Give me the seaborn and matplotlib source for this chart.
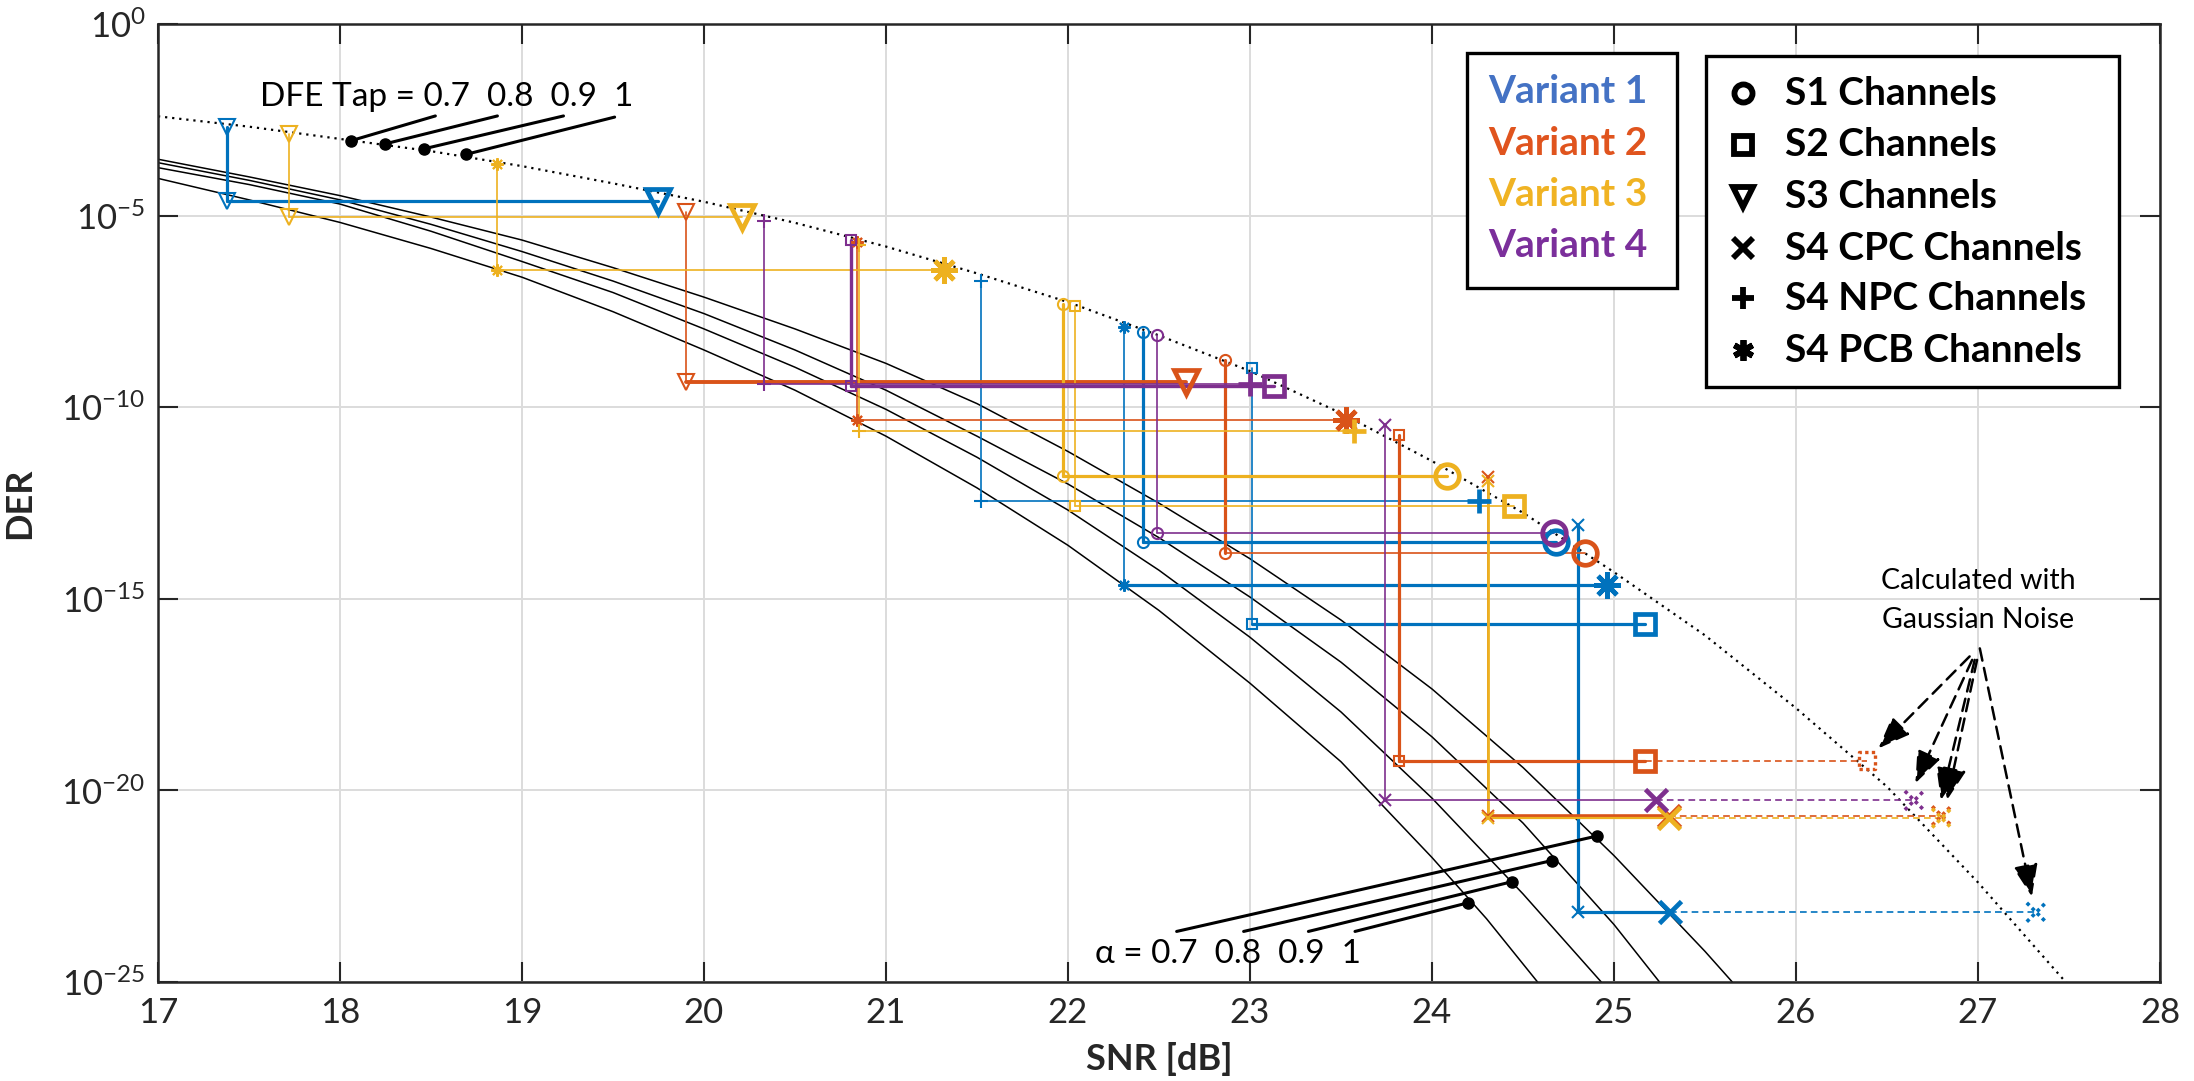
import numpy as np
import pandas as pd
import matplotlib
matplotlib.use("Agg")
import matplotlib.pyplot as plt
from matplotlib.lines import Line2D
from matplotlib.patches import Rectangle
from matplotlib.ticker import FixedLocator, NullLocator
import seaborn as sns

# ---------------------------------------------------------------- data
# Gaussian-noise DER reference (DFE tap sweep), log10(DER) against SNR [dB]
gauss_snr = [17.0, 17.5, 18.0, 18.5, 19.0, 19.5, 20.0, 20.5, 21.0, 21.5, 22.0,
             22.5, 23.0, 23.5, 24.0, 24.5, 25.0, 25.5, 26.0, 26.5, 27.0, 27.5]
gauss_log_der = [-2.40, -2.67, -2.99, -3.31, -3.70, -4.15, -4.63, -5.18, -5.80, -6.50, -7.25,
                 -8.12, -9.05, -10.15, -11.40, -12.75, -14.30, -15.95, -17.85, -19.90, -22.40, -25.10]

# DER curves for the alpha sweep
snr_a07 = [17.0, 17.5, 18.0, 18.5, 19.0, 19.5, 20.0, 20.5, 21.0, 21.5, 22.0, 22.5,
           23.0, 23.5, 24.0, 24.5, 25.0, 25.5, 25.65]
log_der_a07 = [-3.52, -3.98, -4.47, -5.03, -5.63, -6.35, -7.12, -7.95, -8.85, -9.90, -11.15, -12.50,
               -13.95, -15.55, -17.35, -19.40, -21.70, -24.20, -25.0]
snr_a08 = [17.0, 17.5, 18.0, 18.5, 19.0, 19.5, 20.0, 20.5, 21.0, 21.5, 22.0, 22.5,
           23.0, 23.5, 24.0, 24.5, 25.0, 25.25]
log_der_a08 = [-3.61, -4.07, -4.58, -5.22, -5.93, -6.70, -7.55, -8.50, -9.55, -10.75, -12.00, -13.40,
               -14.95, -16.65, -18.60, -20.85, -23.50, -25.0]
snr_a09 = [17.0, 17.5, 18.0, 18.5, 19.0, 19.5, 20.0, 20.5, 21.0, 21.5, 22.0, 22.5,
           23.0, 23.5, 24.0, 24.5, 24.93]
log_der_a09 = [-3.74, -4.18, -4.69, -5.40, -6.19, -7.00, -7.95, -8.95, -10.05, -11.30, -12.68, -14.25,
               -16.00, -17.95, -20.20, -22.70, -25.0]
snr_a10 = [17.0, 17.5, 18.0, 18.5, 19.0, 19.5, 20.0, 20.5, 21.0, 21.5, 22.0, 22.5,
           23.0, 23.5, 24.0, 24.3, 24.58]
log_der_a10 = [-4.02, -4.58, -5.17, -5.85, -6.60, -7.50, -8.50, -9.55, -10.75, -12.10, -13.60, -15.30,
               -17.20, -19.25, -21.75, -23.35, -25.0]

variants = ["Variant 1", "Variant 2", "Variant 3", "Variant 4"]
channels = ["S1 Channels", "S2 Channels", "S3 Channels",
            "S4 CPC Channels", "S4 NPC Channels", "S4 PCB Channels"]

# measured channel results: small markers at snr_min (top -> bottom DER),
# large marker at snr_max, optional Gaussian-noise result at snr_gaussian
meas_variant = [0, 0, 0, 0, 0, 0,
                1, 1, 1, 1, 1,
                2, 2, 2, 2, 2, 2,
                3, 3, 3, 3]
meas_channel = ["S3", "S4 NPC", "S4 PCB", "S1", "S2", "S4 CPC",
                "S3", "S4 PCB", "S1", "S2", "S4 CPC",
                "S3", "S4 PCB", "S4 NPC", "S1", "S2", "S4 CPC",
                "S4 NPC", "S2", "S1", "S4 CPC"]
snr_min = [17.38, 21.52, 22.31, 22.41, 23.01, 24.80,
           19.90, 20.84, 22.86, 23.82, 24.31,
           17.72, 18.86, 20.85, 21.97, 22.04, 24.31,
           20.33, 20.81, 22.49, 23.74]
log_der_top = [-2.68, -6.69, -7.90, -8.03, -8.98, -13.07,
               -4.91, -5.69, -8.77, -10.72, -11.82,
               -2.85, -3.65, -5.75, -7.29, -7.34, -11.92,
               -5.12, -5.63, -8.12, -10.46]
log_der_bottom = [-4.60, -12.43, -14.63, -13.50, -15.66, -23.18,
                  -9.33, -10.34, -13.79, -19.22, -20.66,
                  -5.02, -6.41, -10.62, -11.80, -12.58, -20.72,
                  -9.38, -9.45, -13.27, -20.26]
snr_max = [19.75, 24.26, 24.96, 24.68, 25.17, 25.31,
           22.65, 23.53, 24.84, 25.17, 25.30,
           20.21, 21.32, 23.57, 24.08, 24.45, 25.30,
           23.00, 23.13, 24.67, 25.23]
snr_gaussian = [np.nan, np.nan, np.nan, np.nan, np.nan, 27.32,
                np.nan, np.nan, np.nan, 26.39, 26.80,
                np.nan, np.nan, np.nan, np.nan, np.nan, 26.80,
                np.nan, np.nan, np.nan, 26.65]

# ---------------------------------------------------------------- styles
THIN, THICK = 1.2, 2.3
stem_widths = [(THICK, THICK), (THIN, THIN), (THIN, THICK), (THICK, THICK), (THIN, THICK), (THICK, THICK),
               (THIN, 2.8), (THIN, THIN), (THICK, THIN), (THICK, THICK), (THIN, 2.6),
               (THIN, THIN), (THIN, THIN), (THIN, THIN), (THICK, THICK), (THIN, THIN), (2.0, 1.6),
               (THIN, THIN), (2.4, 2.4), (THIN, THIN), (THIN, THIN)]

line_colors = ["#0072BD", "#D95319", "#EDB120", "#7E2F8E"]
label_colors = ["#4472C4", "#E0541E", "#F0B323", "#7B2F9B"]
ASTERISK = (8, 2, 0)
channel_marker = {"S1": "o", "S2": "s", "S3": "v", "S4 CPC": "x", "S4 NPC": "+", "S4 PCB": ASTERISK}
unfilled = {"S4 CPC", "S4 NPC", "S4 PCB"}
small_size = {"S1": 8, "S2": 7.5, "S3": 11, "S4 CPC": 8, "S4 NPC": 10, "S4 PCB": 9}
big_size = {"S1": 17, "S2": 14, "S3": 17, "S4 CPC": 16, "S4 NPC": 17, "S4 PCB": 19}

FONT = ["Lato", "DejaVu Sans"]
sns.set_theme(style="white")
plt.rcParams["font.family"] = FONT
plt.rcParams["mathtext.fontset"] = "custom"
plt.rcParams["mathtext.rm"] = "Lato"
plt.rcParams["mathtext.it"] = "Lato:italic"
plt.rcParams["mathtext.bf"] = "Lato:bold"

W, H = 2194, 1081
fig = plt.figure(figsize=(W / 100, H / 100), dpi=100)
fig.patch.set_facecolor("white")
ax = fig.add_axes([0.07201, 0.09158, 0.91249, 0.88585])
ax.set_yscale("log")
ax.set_xlim(17, 28)
ax.set_ylim(1e-25, 1)

# ---------------------------------------------------------------- curves
curves = pd.concat([
    pd.DataFrame({"snr": s, "der": np.power(10.0, d), "alpha": a})
    for s, d, a in [(snr_a07, log_der_a07, 0.7), (snr_a08, log_der_a08, 0.8),
                    (snr_a09, log_der_a09, 0.9), (snr_a10, log_der_a10, 1.0)]
])
sns.lineplot(data=curves, x="snr", y="der", units="alpha", estimator=None,
             color="black", lw=1.1, ax=ax, zorder=2)
gauss = pd.DataFrame({"snr": gauss_snr, "der": np.power(10.0, gauss_log_der)})
sns.lineplot(data=gauss, x="snr", y="der", color="black", lw=1.6,
             linestyle=(0, (1, 2.2)), ax=ax, zorder=2)

# ---------------------------------------------------------------- measurements
for i in range(len(snr_min)):
    c = line_colors[meas_variant[i]]
    ch = meas_channel[i]
    mk = channel_marker[ch]
    x0, x1 = snr_min[i], snr_max[i]
    y_top, y_bot = 10.0 ** log_der_top[i], 10.0 ** log_der_bottom[i]
    lw_v, lw_h = stem_widths[i]
    ax.plot([x0, x0], [y_top, y_bot], color=c, lw=lw_v, zorder=3)
    ax.plot([x0, x1], [y_bot, y_bot], color=c, lw=lw_h, zorder=3)
    ax.plot([x0, x0], [y_top, y_bot], ls="none", marker=mk, ms=small_size[ch], mew=1.5,
            mfc="none", mec=c, zorder=4)
    ax.plot([x1], [y_bot], ls="none", marker=mk, ms=big_size[ch], mew=3.4,
            mfc="none", mec=c, zorder=5)
    xg = snr_gaussian[i]
    if not np.isnan(xg):
        off = 0 if meas_variant[i] != 2 else 3
        ax.plot([x1, xg], [y_bot, y_bot], color=c, lw=1.2, ls=(off, (4, 2.5)), zorder=3)
        size = (big_size[ch] * 0.85) ** 2
        if ch in unfilled:
            ax.scatter([xg], [y_bot], marker=mk, s=size, c=[c], linewidths=2.6,
                       linestyles=(0, (1, 1)), zorder=5)
        else:
            ax.scatter([xg], [y_bot], marker=mk, s=size, facecolors="none", edgecolors=c,
                       linewidths=2.4, linestyles=(0, (1, 1)), zorder=5)

# ---------------------------------------------------------------- annotations
txt_kw = dict(color="black", fontsize=24, zorder=6)
ax.text(17.56, 10 ** -2.13, "DFE Tap = 0.7  0.8  0.9  1", ha="left", va="baseline", **txt_kw)
dfe_from = [(18.524, -2.39), (18.865, -2.39), (19.228, -2.39), (19.509, -2.42)]
dfe_to = [(18.058, -3.04), (18.247, -3.12), (18.460, -3.25), (18.695, -3.39)]
for (xa, ya), (xb, yb) in zip(dfe_from, dfe_to):
    ax.plot([xa, xb], [10 ** ya, 10 ** yb], color="black", lw=2.2, zorder=6)
    ax.plot([xb], [10 ** yb], "o", color="black", ms=8, zorder=6)

ax.text(22.15, 10 ** -24.50, "α = 0.7  0.8  0.9  1", ha="left", va="baseline", **txt_kw)
alpha_from = [(22.597, -23.68), (22.965, -23.68), (23.321, -23.68), (23.577, -23.68)]
alpha_to = [(24.905, -21.19), (24.658, -21.83), (24.441, -22.38), (24.200, -22.93)]
for (xa, ya), (xb, yb) in zip(alpha_from, alpha_to):
    ax.plot([xa, xb], [10 ** ya, 10 ** yb], color="black", lw=2.2, zorder=6)
    ax.plot([xb], [10 ** yb], "o", color="black", ms=8, zorder=6)

ax.text(27.0, 10 ** -14.75, "Calculated with", ha="center", va="baseline", color="black", fontsize=20.5, zorder=6)
ax.text(27.0, 10 ** -15.76, "Gaussian Noise", ha="center", va="baseline", color="black", fontsize=20.5, zorder=6)
arrow_from = [(26.954, -16.50), (26.968, -16.59), (26.982, -16.59), (26.995, -16.59), (27.010, -16.29)]
arrow_to = [(26.453, -18.90), (26.656, -19.81), (26.796, -20.25), (26.830, -20.25), (27.296, -22.77)]
for (xa, ya), (xb, yb) in zip(arrow_from, arrow_to):
    ax.annotate("", xy=(xb, 10 ** yb), xytext=(xa, 10 ** ya),
                arrowprops=dict(arrowstyle="-|>,head_length=0.9,head_width=0.35", color="black",
                                lw=1.8, linestyle=(0, (5, 3)), shrinkA=0, shrinkB=0,
                                mutation_scale=22),
                zorder=6)

# ---------------------------------------------------------------- axes styling
ax.xaxis.set_major_locator(FixedLocator(np.arange(17, 29)))
ax.yaxis.set_major_locator(FixedLocator([1e-25, 1e-20, 1e-15, 1e-10, 1e-5, 1e0]))
ax.yaxis.set_minor_locator(NullLocator())
ax.xaxis.set_minor_locator(NullLocator())
ax.grid(True, which="major", color="#dcdcdc", lw=1.4, zorder=0)
ax.set_axisbelow(True)
for sp in ax.spines.values():
    sp.set_color("#262626")
    sp.set_linewidth(1.8)
    sp.set_visible(True)
ax.tick_params(axis="both", which="major", direction="in", length=14.5, width=1.5,
               colors="#262626", labelsize=25, top=True, right=True, bottom=True, left=True)
ax.tick_params(axis="x", pad=11)
ax.tick_params(axis="y", pad=9)
for lbl in ax.get_xticklabels() + ax.get_yticklabels():
    lbl.set_color("#262626")

ax.set_xlabel("SNR [dB]", fontsize=26, fontweight="bold", color="#262626")
ax.set_ylabel("DER", fontsize=26, fontweight="bold", color="#262626")
ax.xaxis.set_label_coords(0.5, -0.063)
ax.yaxis.set_label_coords(-0.061, 0.5)

# ---------------------------------------------------------------- legends
def fx(px):
    return px / W


def fy(py):
    return 1 - py / H


fig.add_artist(Rectangle((fx(1467.3), fy(288.3)), fx(1677) - fx(1467.3), fy(53.3) - fy(288.3),
                         transform=fig.transFigure, facecolor="white", edgecolor="black",
                         lw=2.4, zorder=10))
for k, name in enumerate(variants):
    fig.text(fx(1488.6), fy([91.7, 143.3, 195.0, 245.0][k]), name, color=label_colors[k],
             fontsize=28, fontweight="bold", ha="left", va="center", zorder=11)

fig.add_artist(Rectangle((fx(1706.3), fy(386.7)), fx(2119) - fx(1706.3), fy(56) - fy(386.7),
                         transform=fig.transFigure, facecolor="white", edgecolor="black",
                         lw=2.4, zorder=10))
legend_keys = ["S1", "S2", "S3", "S4 CPC", "S4 NPC", "S4 PCB"]
legend_rows = [93.3, 145.0, 196.7, 248.3, 298.3, 350.0]
legend_ms = {"S1": 13, "S2": 13, "S3": 15, "S4 CPC": 14, "S4 NPC": 16, "S4 PCB": 15}
for key, name, row in zip(legend_keys, channels, legend_rows):
    mk = channel_marker[key] if key != "S4 PCB" else (6, 2, 0)
    fig.add_artist(Line2D([fx(1743.3)], [fy(row)], transform=fig.transFigure, marker=mk,
                          ms=legend_ms[key], mew=4.2, mfc="none", mec="black", ls="none", zorder=11))
    fig.text(fx(1784.8), fy(row), name, color="black", fontsize=28, fontweight="bold",
             ha="left", va="center", zorder=11)

fig.savefig("out.png", dpi=100, facecolor="white")
